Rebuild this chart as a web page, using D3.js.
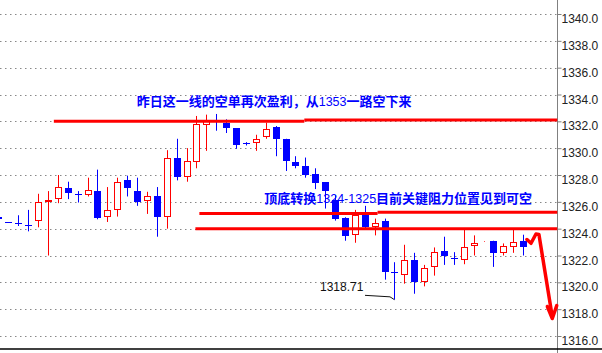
<!DOCTYPE html>
<html>
<head>
<meta charset="utf-8">
<script src="https://cdn.jsdelivr.net/npm/d3@7"></script>
<style>
  body { margin: 0; background: #fff; }
  svg { display: block; }
</style>
</head>
<body>
<div id="graphique"></div>
<script>
// === DONNÉES DU GRAPHIQUE (bougies, niveaux, textes) ===
const ouvertures = [1324.9, 1324.5, 1324.4, 1324.3, 1324.6, 1326.0, 1326.2, 1327.0, 1326.6, 1326.5,
  1326.8, 1324.9, 1325.4, 1327.6, 1326.8, 1326.05, 1326.4, 1324.9, 1329.25, 1327.85,
  1329.0, 1331.75, 1332.05, 1331.9, 1331.5, 1330.35, 1330.4, 1330.8, 1331.55, 1330.7,
  1329.0, 1328.7, 1328.1, 1327.45, 1326.1, 1324.8, 1323.5, 1325.0, 1324.1, 1324.55,
  1320.75, 1320.55, 1321.7, 1320.0, 1321.15, 1322.3, 1321.85, 1321.7, 1322.7, 1323.04,
  1323.1, 1322.15, 1322.6, 1323.1];
const plusHauts = [1324.95, 1324.5, 1325.0, 1325.4, 1326.6, 1326.8, 1328.0, 1327.5, 1326.8, 1327.8,
  1328.4, 1327.1, 1327.8, 1327.95, 1327.8, 1326.75, 1327.1, 1329.85, 1330.7, 1330.0,
  1332.4, 1332.5, 1332.55, 1332.15, 1331.5, 1330.45, 1331.0, 1331.9, 1331.65, 1330.7,
  1329.4, 1329.3, 1328.5, 1327.45, 1326.5, 1324.85, 1325.4, 1325.7, 1324.75, 1324.75,
  1321.5, 1322.8, 1322.2, 1321.3, 1322.6, 1323.4, 1322.25, 1324.0, 1323.5, 1323.05,
  1323.1, 1322.9, 1324.0, 1323.55];
const plusBas = [1324.65, 1324.5, 1324.2, 1323.8, 1324.1, 1322.0, 1325.9, 1326.2, 1325.95, 1326.4,
  1324.7, 1324.5, 1324.9, 1326.4, 1325.7, 1325.1, 1323.4, 1324.0, 1327.6, 1327.5,
  1328.5, 1329.8, 1331.3, 1331.13, 1329.95, 1330.2, 1329.8, 1330.7, 1329.4, 1328.3,
  1328.5, 1327.8, 1326.95, 1325.5, 1324.6, 1323.1, 1322.95, 1324.0, 1323.5, 1320.2,
  1318.71, 1319.9, 1319.15, 1319.7, 1320.5, 1321.3, 1321.3, 1321.35, 1322.0, 1323.04,
  1321.15, 1322.0, 1322.2, 1322.0];
const clotures = [1324.7, 1324.49, 1324.39, 1324.29, 1326.0, 1326.15, 1327.1, 1326.65, 1326.59, 1326.85,
  1324.8, 1325.4, 1327.45, 1327.0, 1326.0, 1326.4, 1324.9, 1329.3, 1327.85, 1329.05,
  1331.8, 1332.1, 1332.0, 1331.5, 1330.2, 1330.3, 1330.7, 1331.45, 1330.7, 1329.05,
  1328.7, 1328.0, 1327.4, 1326.8, 1324.75, 1323.45, 1325.0, 1324.1, 1324.45, 1320.75,
  1320.7, 1321.7, 1320.0, 1321.1, 1322.25, 1321.95, 1321.75, 1322.6, 1322.95, 1323.05,
  1322.15, 1322.7, 1323.0, 1322.6];

const graduations = [1316, 1318, 1320, 1322, 1324, 1326, 1328, 1330, 1332, 1334, 1336, 1338, 1340];

// niveaux tracés à la main : [indice début, indice fin, prix]
const niveauxDebut = [5.6, 30.9, 20.3, 38.3, 19.9];
const niveauxFin = [30.9, 56.45, 38.3, 56.45, 56.45];
const niveauxPrix = [1332.0, 1332.1, 1325.13, 1325.23, 1323.99];

// flèche rouge : [indice, prix]
const flecheCorps = [[53.39, 1323.19], [53.8, 1322.91], [54.3, 1323.6], [54.6, 1323.57], [55.95, 1317.42]];
const flecheTete = [[55.45, 1318.2], [55.95, 1317.3], [56.4, 1318.27]];

const texteHaut = "昨日这一线的空单再次盈利，从1353一路空下来";
const texteBas = "顶底转换1324-1325目前关键阻力位置见到可空";
const indicePlusBas = 40;
const etiquettePlusBas = "1318.71";

// === ÉCHELLES ===
const largeur = 602;
const hauteur = 353;
const x = d3.scaleLinear().domain([0, 56.5]).range([-1.6, 557.75]);
const y = d3.scaleLinear().domain([1316, 1340]).range([336, 14]);
const ROUGE = "#ff0000";
const BLEU = "#0000ff";

const svg = d3.select("#graphique")
  .append("svg")
  .attr("width", largeur)
  .attr("height", hauteur);

// grille pointillée
svg.append("g")
  .selectAll("line")
  .data(graduations)
  .enter()
  .append("line")
  .attr("x1", 0)
  .attr("x2", x(56.5))
  .attr("y1", d => Math.round(y(d)) + 0.5)
  .attr("y2", d => Math.round(y(d)) + 0.5)
  .attr("stroke", "#888")
  .attr("stroke-dasharray", "1.5,3.5");

// axe des prix à droite
const axe = svg.append("g")
  .attr("transform", `translate(${Math.floor(x(56.5)) + 0.5},0)`)
  .call(d3.axisRight(y).tickValues(graduations).tickFormat(d3.format(".1f")).tickSize(4).tickPadding(0));
axe.select(".domain").remove();
axe.selectAll("line").attr("stroke", "#808080");
axe.selectAll("text")
  .attr("dy", "0.72em")
  .attr("fill", "#222")
  .style("font-family", "'Liberation Sans', Arial, sans-serif")
  .style("font-size", "12px");

svg.append("line")
  .attr("x1", Math.floor(x(56.5)) + 0.5).attr("x2", Math.floor(x(56.5)) + 0.5)
  .attr("y1", 0).attr("y2", hauteur)
  .attr("stroke", "#808080");

svg.append("line")
  .attr("x1", 0).attr("x2", largeur)
  .attr("y1", 349).attr("y2", 349)
  .attr("stroke", "#000")
  .attr("stroke-width", 1.5);

// === TEXTES BLEUS ===
// les chiffres sont dans une autre police, plus fine, comme sur l'original
function ecrireTexte(texte, px, py) {
  const t = svg.append("text")
    .attr("x", px).attr("y", py)
    .attr("fill", BLEU)
    .style("font-family", "'Noto Sans CJK SC', sans-serif")
    .style("font-weight", "bold")
    .style("font-size", "13px");
  const morceaux = texte.match(/[0-9\-\.]+|[^0-9\-\.]+/g);
  morceaux.forEach(m => {
    const ts = t.append("tspan").text(m);
    if (/^[0-9\-\.]+$/.test(m)) {
      ts.style("font-family", "'Liberation Sans', Arial, sans-serif")
        .style("font-weight", "normal")
        .style("font-size", "12.5px");
    }
  });
}
ecrireTexte(texteHaut, 136.7, 106.3);
ecrireTexte(texteBas, 264.3, 203.3);

// === BOUGIES ===
const bougies = d3.range(ouvertures.length).map(i => ({
  i, o: ouvertures[i], h: plusHauts[i], l: plusBas[i], c: clotures[i]
}));

const g = svg.append("g");
bougies.forEach(d => {
  const cx = Math.round(x(d.i)) + 0.5;
  const hausse = d.c > d.o;
  const couleur = hausse ? ROUGE : BLEU;
  const yHaut = Math.round(y(Math.max(d.o, d.c)));
  const yBas = Math.round(y(Math.min(d.o, d.c)));

  if (hausse) {
    // mèches au-dessus et au-dessous du corps creux
    g.append("line").attr("x1", cx).attr("x2", cx)
      .attr("y1", y(d.h)).attr("y2", yHaut).attr("stroke", couleur);
    g.append("line").attr("x1", cx).attr("x2", cx)
      .attr("y1", yBas).attr("y2", y(d.l)).attr("stroke", couleur);
    g.append("rect")
      .attr("x", cx - 3).attr("width", 6)
      .attr("y", yHaut + 0.5).attr("height", Math.max(0, yBas - yHaut - 1))
      .attr("fill", "#fff").attr("stroke", couleur);
  } else {
    g.append("line").attr("x1", cx).attr("x2", cx)
      .attr("y1", y(d.h)).attr("y2", y(d.l)).attr("stroke", couleur);
    g.append("rect")
      .attr("x", cx - 3.5).attr("width", 7)
      .attr("y", yHaut).attr("height", Math.max(1, yBas - yHaut))
      .attr("fill", couleur);
  }
});

// === NIVEAUX ROUGES ===
svg.append("g")
  .selectAll("line")
  .data(niveauxPrix.map((p, k) => ({ a: niveauxDebut[k], b: niveauxFin[k], p })))
  .enter()
  .append("line")
  .attr("x1", d => x(d.a))
  .attr("x2", d => x(d.b))
  .attr("y1", d => y(d.p))
  .attr("y2", d => y(d.p))
  .attr("stroke", ROUGE)
  .attr("stroke-width", 3);

// === PLUS BAS 1318.71 ===
const xBas = x(indicePlusBas);
const yBasPrix = y(plusBas[indicePlusBas]);
svg.append("path")
  .attr("d", d3.line()([[xBas - 29.4, yBasPrix - 4.3], [xBas - 4.4, yBasPrix - 2.8], [xBas, yBasPrix]]))
  .attr("fill", "none")
  .attr("stroke", "#111");
svg.append("text")
  .attr("x", xBas - 31)
  .attr("y", yBasPrix - 9)
  .attr("text-anchor", "end")
  .attr("fill", "#111")
  .style("font-family", "'Liberation Sans', Arial, sans-serif")
  .style("font-size", "12px")
  .text(etiquettePlusBas);

// === FLÈCHE ===
const ligne = d3.line().x(d => x(d[0])).y(d => y(d[1]));
svg.append("path")
  .attr("d", ligne(flecheCorps))
  .attr("fill", "none")
  .attr("stroke", ROUGE)
  .attr("stroke-width", 3.5)
  .attr("stroke-linejoin", "round")
  .attr("stroke-linecap", "round");
svg.append("path")
  .attr("d", ligne(flecheTete))
  .attr("fill", "none")
  .attr("stroke", ROUGE)
  .attr("stroke-width", 3.5)
  .attr("stroke-linejoin", "round")
  .attr("stroke-linecap", "round");
</script>
</body>
</html>
